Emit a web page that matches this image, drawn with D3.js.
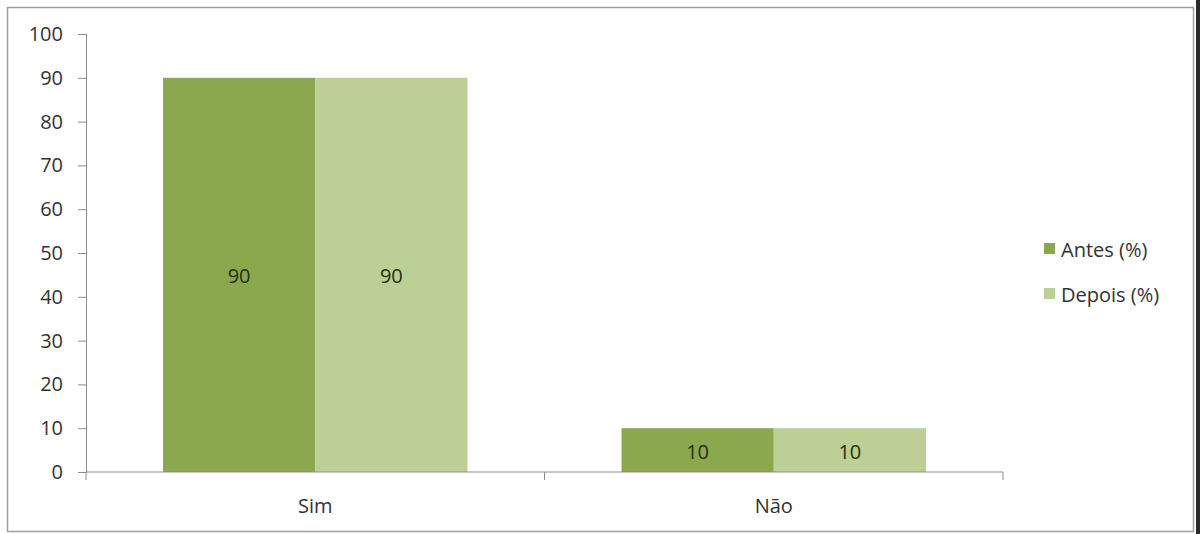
<!DOCTYPE html>
<html>
<head>
<meta charset="utf-8">
<script src="https://cdn.jsdelivr.net/npm/d3@7"></script>
<style>
html,body{margin:0;padding:0;background:#fff;}
svg text{font-family:"Open Sans","Liberation Sans",sans-serif;}
</style>
</head>
<body>
<svg id="chart" width="1200" height="534"></svg>
<script>
const categories = ["Sim", "Não"];
const seriesNames = ["Antes (%)", "Depois (%)"];
const antes = [90, 10];
const depois = [90, 10];
const yTicks = [0, 10, 20, 30, 40, 50, 60, 70, 80, 90, 100];
const colors = ["#8ba84d", "#bccf95"];
const FS = 20;

const svg = d3.select("#chart");
svg.append("rect").attr("x", 7.5).attr("y", 7.5).attr("width", 1186).attr("height", 524)
  .attr("fill", "#fff").attr("stroke", "#a0a0a0").attr("stroke-width", 1.5);
svg.append("rect").attr("x", 1196).attr("y", 0).attr("width", 4).attr("height", 534).attr("fill", "#2a2a2a");

const plotL = 86, plotR = 1003, plotT = 34, plotB = 472;
const x0 = d3.scaleBand().domain(categories).range([plotL, plotR]).paddingInner(0.336).paddingOuter(0.168);
const x1 = d3.scaleBand().domain(seriesNames).range([0, x0.bandwidth()]);
const y = d3.scaleLinear().domain([0, 100]).range([plotB, plotT]);

const data = categories.map((c, i) => ({cat: c, vals: [antes[i], depois[i]]}));

const g = svg.append("g");
data.forEach(d => {
  d.vals.forEach((v, j) => {
    const bx = x0(d.cat) + x1(seriesNames[j]);
    g.append("rect").attr("x", bx).attr("y", y(v)).attr("width", x1.bandwidth()).attr("height", y(0) - y(v))
      .attr("fill", colors[j]);
    g.append("text").attr("x", bx + x1.bandwidth() / 2).attr("y", (y(v) + y(0)) / 2 + 1)
      .attr("text-anchor", "middle").attr("dominant-baseline", "central")
      .attr("font-size", FS).attr("fill", "#26300f").text(v);
  });
});

// Y axis
const yAxis = d3.axisLeft(y).tickValues(yTicks).tickSize(8).tickPadding(15);
const ya = svg.append("g").attr("transform", `translate(${plotL},0)`).call(yAxis);
ya.select(".domain").attr("stroke", "#8c8c8c");
ya.selectAll(".tick line").attr("stroke", "#8c8c8c");
ya.selectAll(".tick text").attr("font-size", FS).attr("fill", "#333")
  .style("font-family", '"Open Sans","Liberation Sans",sans-serif');

// X axis
const xa = svg.append("g").attr("transform", `translate(0,${plotB})`);
xa.append("line").attr("x1", plotL).attr("x2", plotR).attr("stroke", "#8c8c8c");
const bounds = [plotL, (plotL + plotR) / 2, plotR];
bounds.forEach(b => xa.append("line").attr("x1", b).attr("x2", b).attr("y1", 0).attr("y2", 8).attr("stroke", "#8c8c8c"));
categories.forEach(c => {
  xa.append("text").attr("x", x0(c) + x0.bandwidth() / 2).attr("y", 41)
    .attr("text-anchor", "middle").attr("font-size", FS).attr("fill", "#333").text(c);
});

// Legend
const leg = svg.append("g");
seriesNames.forEach((s, i) => {
  const ly = 248 + i * 45;
  leg.append("rect").attr("x", 1044).attr("y", ly - 5).attr("width", 11).attr("height", 11).attr("fill", colors[i]);
  leg.append("text").attr("x", 1061).attr("y", ly + 1).attr("dominant-baseline", "central")
    .attr("font-size", FS).attr("fill", "#333").text(s);
});
</script>
</body>
</html>
